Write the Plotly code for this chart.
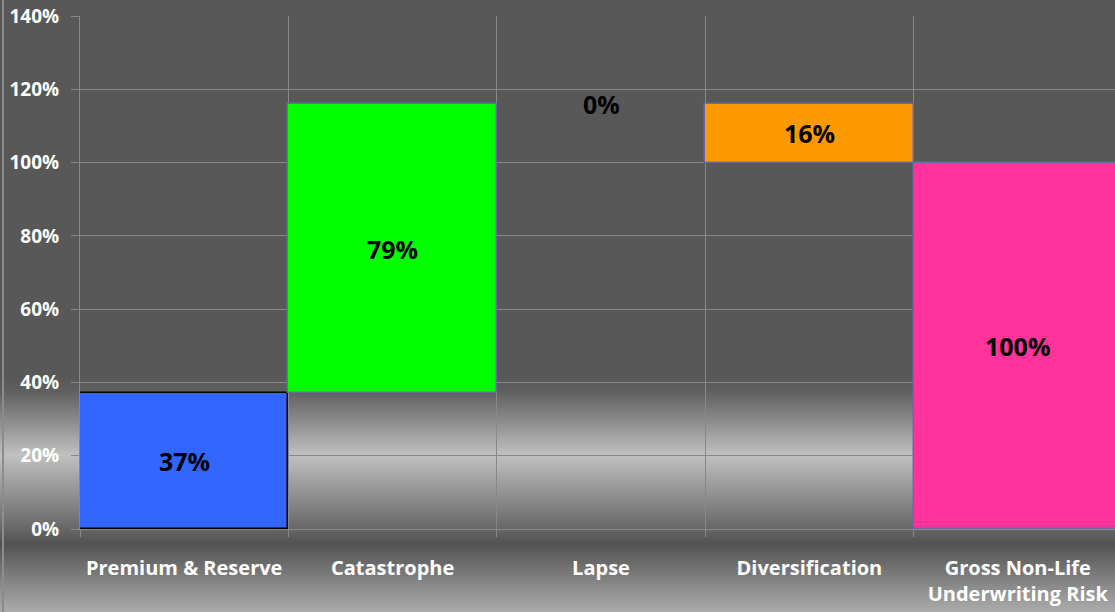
import plotly.graph_objects as go

categories = ["Premium & Reserve", "Catastrophe", "Lapse", "Diversification", "Gross Non-Life<br>Underwriting Risk"]
values = [37, 79, 0, 16, 100]
bases = [0, 37, 116, 100, 0]
labels = ["37%", "79%", "0%", "16%", "100%"]
bar_colors = ["#3366ff", "#00ff00", "#00ff00", "#ff9900", "#ff3399"]
line_colors = ["#000000", "#6a6aa8", "#6a6aa8", "#6a6aa8", "#6a6aa8"]
line_widths = [1.5, 1.5, 0, 1.5, 1.5]
y_ticks = [0, 20, 40, 60, 80, 100, 120, 140]

W, H = 1115, 612
L, T, B = 80, 16, 529
FONT = "Open Sans"

x_idx = list(range(len(categories)))
fig = go.Figure()
fig.add_trace(go.Bar(
    x=x_idx, y=values, base=bases, width=1.0,
    marker=dict(color=bar_colors, line=dict(color=line_colors, width=line_widths)),
    hoverinfo="skip", showlegend=False,
))
for xi, b, v, t in zip(x_idx, bases, values, labels):
    fig.add_annotation(x=xi, y=b + v / 2, text=f"<b>{t}</b>", showarrow=False, yshift=0,
                       font=dict(family=FONT, size=25, color="#000000"))

# background gradient (vertical), approximated with thin strips
stops = [(0, 88), (378, 88), (392, 96), (455, 192), (525, 108), (544, 82), (612, 172)]

def gray_at(py):
    for (p0, g0), (p1, g1) in zip(stops[:-1], stops[1:]):
        if p0 <= py <= p1:
            t = (py - p0) / (p1 - p0) if p1 > p0 else 0
            return round(g0 + (g1 - g0) * t)
    return stops[-1][1]

def ypap(py):
    return (B - py) / (B - T)

def xpap(px):
    return (px - L) / (W - L)

shapes = []
step = 2
for py in range(0, H, step):
    g = gray_at(py + step / 2)
    c = f"rgb({g},{g},{g})"
    shapes.append(dict(type="rect", xref="paper", yref="paper", x0=xpap(-5), x1=xpap(W + 5),
                       y0=ypap(py + step), y1=ypap(py), fillcolor=c, line=dict(width=0), layer="below"))
shapes.append(dict(type="line", xref="paper", yref="paper", x0=xpap(3), x1=xpap(3),
                   y0=ypap(H), y1=ypap(0), line=dict(color="#8c8c8c", width=2), layer="above"))

span = (W - L) / 208.4
fig.update_layout(
    width=W, height=H,
    margin=dict(l=L, r=0, t=T, b=H - B, pad=0),
    paper_bgcolor="#585858", plot_bgcolor="rgba(0,0,0,0)",
    bargap=0, shapes=shapes,
    font=dict(family=FONT, color="#ffffff", size=18),
)
fig.update_xaxes(
    range=[-0.5, -0.5 + span], tickmode="array", tickvals=x_idx, ticktext=[f"<b>{c}</b>" for c in categories],
    ticks="", showgrid=False, showline=True, linecolor="#888888", linewidth=1,
    tickfont=dict(family=FONT, size=20, color="#ffffff"), ticklabelstandoff=21,
    minor=dict(tickvals=[i - 0.5 for i in range(len(categories) + 1)], ticks="outside", ticklen=7,
               tickcolor="#888888", showgrid=True, gridcolor="#888888", gridwidth=1),
    zeroline=False, fixedrange=True,
)
fig.update_yaxes(
    range=[0, 140], tickmode="array", tickvals=y_ticks, ticktext=[f"<b>{v}%</b>" for v in y_ticks],
    ticks="outside", ticklen=8, tickcolor="#888888",
    showgrid=True, gridcolor="#888888", gridwidth=1,
    showline=True, linecolor="#888888", linewidth=1, zeroline=False,
    tickfont=dict(family=FONT, size=19, color="#ffffff"), ticklabelstandoff=8,
    fixedrange=True,
)
fig.write_html("out.html", config={"displayModeBar": False},
               post_script="document.body.style.margin='0';document.body.style.overflow='hidden';")
